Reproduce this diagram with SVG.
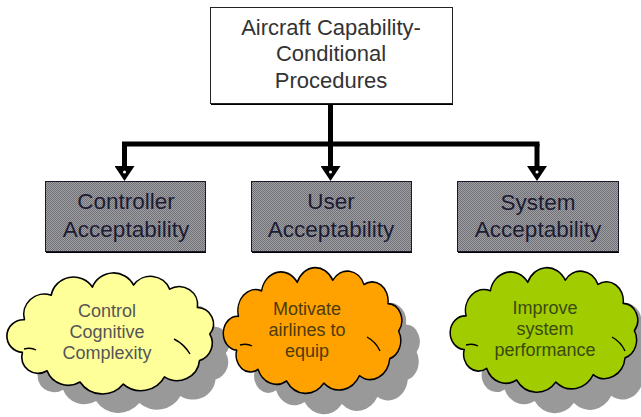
<svg xmlns="http://www.w3.org/2000/svg" xmlns:xlink="http://www.w3.org/1999/xlink" width="641" height="417" viewBox="0 0 641 417">
  <style>
    .t { font-family: "Liberation Sans", Arial, sans-serif; text-anchor: middle; }
    .top { font-size: 22px; fill: #333333; }
    .box { font-size: 22.5px; fill: #1c1c34; }
    .ct { font-size: 18px; }
    .conn { stroke: #000; stroke-width: 5; fill: none; }
    .cloud { stroke: #000; stroke-width: 1.6; vector-effect: non-scaling-stroke; stroke-linejoin: round; }
    .inner { fill: none; stroke: #000; stroke-width: 1.4; vector-effect: non-scaling-stroke; }
    .shadow { fill: #999999; }
  </style>
  <defs>
    <pattern id="dither" patternUnits="userSpaceOnUse" width="2" height="2">
      <rect width="2" height="2" fill="#a2a2a2"/>
      <rect x="0" y="0" width="1" height="1" fill="#6e6e78"/>
      <rect x="1" y="1" width="1" height="1" fill="#6e6e78"/>
    </pattern>
    <marker id="arrow" viewBox="0 0 15 20" refX="0" refY="10" markerWidth="15" markerHeight="20" markerUnits="userSpaceOnUse" orient="auto">
      <path d="M0,0 L15,10 L0,20 Z" fill="#000"/>
      <circle cx="6" cy="10" r="1.5" fill="#fff"/>
    </marker>
    <path id="cloudShape" d="M 14,38 A 20 20 0 0 1 40 14 A 22 22 0 0 1 80 6 A 22 22 0 0 1 120 4 A 20 20 0 0 1 155 8 A 18 18 0 0 1 182 26 A 16 16 0 0 1 194 52 A 18 18 0 0 1 184 78 A 22 22 0 0 1 150 94 A 26 26 0 0 1 110 101 A 26 26 0 0 1 68 99 A 22 22 0 0 1 36 88 A 16 16 0 0 1 12 70 A 16 16 0 0 1 14 38 Z"/>
  </defs>

  <rect width="641" height="417" fill="#ffffff"/>

  <g id="connectors">
    <path class="conn" d="M330.5,104 V144"/>
    <path class="conn" d="M124.5,144 H537" stroke-linecap="square"/>
    <path class="conn" d="M124.5,144 V166" marker-end="url(#arrow)"/>
    <path class="conn" d="M330.5,144 V166" marker-end="url(#arrow)"/>
    <path class="conn" d="M537,144 V166" marker-end="url(#arrow)"/>
  </g>

  <g id="root">
    <rect x="211" y="9" width="242" height="96" fill="#000"/>
    <rect x="210.5" y="7.5" width="242" height="96" fill="#ffffff" stroke="#222" stroke-width="1"/>
    <text class="t top" x="331" y="35">Aircraft Capability-</text>
    <text class="t top" x="331" y="61">Conditional</text>
    <text class="t top" x="331" y="88">Procedures</text>
  </g>

  <g id="controller">
    <rect x="46" y="183" width="160" height="70" fill="#000"/>
    <rect x="45.5" y="181.5" width="160" height="70" fill="url(#dither)" stroke="#1a1a2a" stroke-width="1"/>
    <text class="t box" x="126" y="209">Controller</text>
    <text class="t box" x="126" y="237">Acceptability</text>
  </g>

  <g id="user">
    <rect x="252" y="183" width="160" height="70" fill="#000"/>
    <rect x="251.5" y="181.5" width="160" height="70" fill="url(#dither)" stroke="#1a1a2a" stroke-width="1"/>
    <text class="t box" x="331" y="209">User</text>
    <text class="t box" x="331" y="237">Acceptability</text>
  </g>

  <g id="system">
    <rect x="458" y="183" width="161" height="70" fill="#000"/>
    <rect x="457.5" y="181.5" width="161" height="70" fill="url(#dither)" stroke="#1a1a2a" stroke-width="1"/>
    <text class="t box" x="538" y="210">System</text>
    <text class="t box" x="538" y="237">Acceptability</text>
  </g>

  <g id="cloud-control">
    <use xlink:href="#cloudShape" class="shadow" transform="translate(26,300) scale(1.03,1.02)"/>
    <use xlink:href="#cloudShape" class="cloud" fill="#ffff99" transform="translate(10,281) scale(1.03,1.02)"/>
    <path class="inner" d="M174,339 q 10 5 16 15"/>
    <path class="inner" d="M24,349 q 7 -2 12 1"/>
    <text class="t ct" x="107" y="317" fill="#555555">Control</text>
    <text class="t ct" x="107" y="338" fill="#555555">Cognitive</text>
    <text class="t ct" x="107" y="359" fill="#555555">Complexity</text>
  </g>

  <g id="cloud-motivate">
    <use xlink:href="#cloudShape" class="shadow" transform="translate(244,297) scale(0.89,1.06)"/>
    <use xlink:href="#cloudShape" class="cloud" fill="#ffa200" transform="translate(226,276) scale(0.89,1.06)"/>
    <path class="inner" d="M367,337 q 9 5 13 14"/>
    <path class="inner" d="M240,345 q 7 -2 12 1"/>
    <text class="t ct" x="307" y="315" fill="#4d3b0a">Motivate</text>
    <text class="t ct" x="307" y="336" fill="#4d3b0a">airlines to</text>
    <text class="t ct" x="307" y="357" fill="#4d3b0a">equip</text>
  </g>

  <g id="cloud-improve">
    <use xlink:href="#cloudShape" class="shadow" transform="translate(471,297) scale(0.935,1.05)"/>
    <use xlink:href="#cloudShape" class="cloud" fill="#a0cc00" transform="translate(453,276) scale(0.935,1.05)"/>
    <path class="inner" d="M612,337 q 9 5 13 14"/>
    <path class="inner" d="M466,345 q 7 -2 12 1"/>
    <text class="t ct" x="545" y="314" fill="#3a4a10">Improve</text>
    <text class="t ct" x="545" y="335" fill="#3a4a10">system</text>
    <text class="t ct" x="545" y="356" fill="#3a4a10">performance</text>
  </g>
</svg>
